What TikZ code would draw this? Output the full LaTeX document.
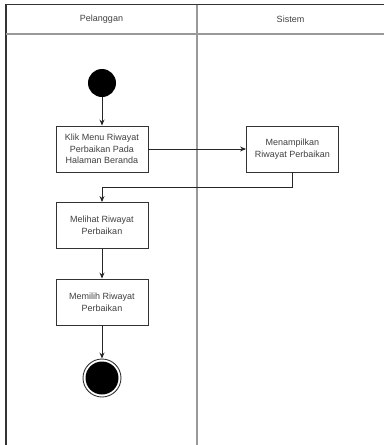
\documentclass[tikz,border=0pt]{standalone}
\usepackage{fontspec}
\setmainfont{Liberation Sans}
\usetikzlibrary{arrows.meta}
\tikzset{
	act/.style={draw=black!80,line width=0.9pt,fill=white,minimum width=92pt,minimum height=46pt,align=center,inner sep=0pt,font=\fontsize{9}{11.6}\selectfont,text=black!75},
	lane/.style={draw=black!40,line width=1.3pt},
	lanetxt/.style={font=\fontsize{9}{10}\selectfont,text=black!75},
	flow/.style={draw=black!85,line width=0.9pt,-{Stealth[length=6pt,width=5pt]}}
}

\begin{document}
\begin{tikzpicture}[x=1pt,y=-1pt]
	\useasboundingbox (0,0) rectangle (384,445);
	% swimlanes
	\draw [black!80, line width=1.3pt] (6,445) -- (6,4.5) -- (384,4.5);
	\draw [lane] (6,34) -- (384,34);
	\draw [lane] (197,4.5) -- (197,445);
	\node [lanetxt] (pelanggan) at (101.5,19) {Pelanggan};
	\node [lanetxt] (sistem) at (290.5,19) {Sistem};

	\node [circle,fill=black,minimum size=28pt,inner sep=0pt] (start) at (102,83) {};
	\node [act] (klik) at (102,149) {Klik Menu Riwayat\\Perbaikan Pada\\Halaman Beranda};
	\node [act] (tampil) at (292.5,149) {Menampilkan\\Riwayat Perbaikan};
	\node [act] (lihat) at (102,225.5) {Melihat Riwayat\\Perbaikan};
	\node [act] (pilih) at (102,302) {Memilih Riwayat\\Perbaikan};
	\node [circle,draw=black!80,line width=0.9pt,fill=white,minimum size=38pt,inner sep=0pt] (finish) at (102,378) {};
	\node [circle,fill=black,minimum size=33pt,inner sep=0pt] (finishdot) at (finish) {};

	\draw [flow] (start) -- (klik);
	\draw [flow] (klik) -- (tampil);
	\draw [flow] (tampil.south) -- ++(0,15) -| (lihat.north);
	\draw [flow] (lihat) -- (pilih);
	\draw [flow] (pilih) -- (finish);
\end{tikzpicture}
\end{document}
